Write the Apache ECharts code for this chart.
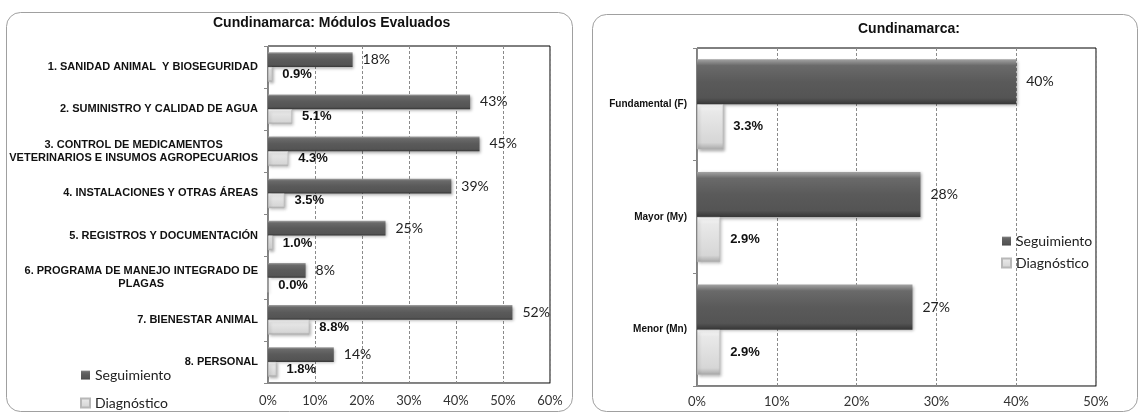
<!DOCTYPE html>
<html><head><meta charset="utf-8">
<script src="https://cdn.jsdelivr.net/npm/echarts@6/dist/echarts.min.js"></script>
<style>html,body{margin:0;padding:0;background:#fff}#c{width:1143px;height:414px}</style>
</head><body><div id="c"></div>
<script>
// ---- data ----
const modulos = [
  '1. SANIDAD ANIMAL  Y BIOSEGURIDAD',
  '2. SUMINISTRO Y CALIDAD DE AGUA',
  '3. CONTROL DE MEDICAMENTOS\nVETERINARIOS E INSUMOS AGROPECUARIOS',
  '4. INSTALACIONES Y OTRAS ÁREAS',
  '5. REGISTROS Y DOCUMENTACIÓN',
  '6. PROGRAMA DE MANEJO INTEGRADO DE\nPLAGAS',
  '7. BIENESTAR ANIMAL',
  '8. PERSONAL'
];
const modSeguimiento = [18, 43, 45, 39, 25, 8, 52, 14];
const modDiagnostico = [0.9, 5.1, 4.3, 3.5, 1.0, 0.0, 8.8, 1.8];
const niveles = ['Fundamental (F)', 'Mayor (My)', 'Menor (Mn)'];
const nivSeguimiento = [40, 28, 27];
const nivDiagnostico = [3.3, 2.9, 2.9];
const seriesNames = ['Seguimiento', 'Diagnóstico'];
const titles = ['Cundinamarca: Módulos Evaluados', 'Cundinamarca:'];
const xMaxLeft = 60, xMaxRight = 50, xStep = 10;

// ---- styles ----
const segColor = {type:'linear', x:0, y:0, x2:0, y2:1, colorStops:[
  {offset:0, color:'#a3a3a3'}, {offset:0.14, color:'#6a6a6a'}, {offset:0.5, color:'#5a5a5a'},
  {offset:0.86, color:'#545454'}, {offset:1, color:'#363636'}]};
const diaColor = {type:'linear', x:0, y:0, x2:0, y2:1, colorStops:[
  {offset:0, color:'#fbfbfb'}, {offset:0.15, color:'#e9e9e9'}, {offset:0.85, color:'#d6d6d6'},
  {offset:1, color:'#a9a9a9'}]};
const segItem = {color: segColor, shadowColor:'rgba(0,0,0,0.35)', shadowBlur:3, shadowOffsetX:1.5, shadowOffsetY:1.5};
const diaItem = {color: diaColor, borderColor:'#b8b8b8', borderWidth:0.6, shadowColor:'rgba(0,0,0,0.3)', shadowBlur:3, shadowOffsetX:1.5, shadowOffsetY:1.5};
const calibri = 'Lato';
const arial = 'Liberation Sans';

function segLabel() {
  return {show:true, position:'right', distance:10, fontFamily:calibri, fontSize:14, color:'#222',
    formatter: p => Math.round(p.value) + '%'};
}
function diaLabel() {
  return {show:true, position:'right', distance:10, fontFamily:arial, fontSize:13, fontWeight:'bold', color:'#111',
    formatter: p => p.value.toFixed(1) + '%'};
}
function xAxis(gi, max, margin) {
  return {type:'value', gridIndex:gi, min:0, max:max, interval:xStep,
    axisLabel:{formatter:'{value}%', fontFamily:calibri, fontSize:13, color:'#333', margin:margin},
    axisLine:{show:true, lineStyle:{color:'#888'}}, axisTick:{show:false},
    splitLine:{show:true, lineStyle:{color:'#8a8a8a', type:[3,2], width:1}}};
}
function yAxis(gi, data, fs, lh) {
  return {type:'category', gridIndex:gi, data:data, inverse:true,
    axisLine:{show:true, lineStyle:{color:'#888'}},
    axisTick:{show:true, length:4, lineStyle:{color:'#888'}},
    axisLabel:{margin:10, fontFamily:arial, fontWeight:'bold', fontSize:fs, color:'#111', lineHeight:lh,
      formatter: v => v.split('\n').map(s => '{c|' + s + '}').join('\n'),
      rich:{c:{align:'center', fontFamily:arial, fontWeight:'bold', fontSize:fs, color:'#111', lineHeight:lh}}},
    splitLine:{show:false}};
}

const chart = echarts.init(document.getElementById('c'), null, {renderer:'canvas'});
chart.setOption({
  animation:false,
  backgroundColor:'#fff',
  title:[
    {text:titles[0], left:213, top:16, padding:0, textStyle:{fontFamily:arial, fontSize:14, fontWeight:'bold', color:'#111'}},
    {text:titles[1], left:858, top:22, padding:0, textStyle:{fontFamily:arial, fontSize:14, fontWeight:'bold', color:'#111'}}
  ],
  graphic:[
    {type:'rect', shape:{x:6.5, y:12.5, width:566, height:399, r:14}, style:{fill:'none', stroke:'#a0a0a0', lineWidth:1}},
    {type:'rect', shape:{x:592.5, y:14.5, width:545, height:397, r:14}, style:{fill:'none', stroke:'#a0a0a0', lineWidth:1}}
  ],
  legend:[
    {data:seriesNames, orient:'vertical', left:80, top:368, itemWidth:9, itemHeight:9, itemGap:14, icon:'rect',
      selectedMode:false, padding:0, textStyle:{fontFamily:calibri, fontSize:14, color:'#222'}},
    {data:seriesNames, orient:'vertical', left:1001, top:234, itemWidth:9, itemHeight:9, itemGap:8, icon:'rect',
      selectedMode:false, padding:0, textStyle:{fontFamily:calibri, fontSize:14, color:'#222'}}
  ],
  grid:[
    {left:268, top:46, width:282, height:337, show:true, borderColor:'#000', borderWidth:1, backgroundColor:'transparent'},
    {left:697, top:48, width:399, height:338, show:true, borderColor:'#000', borderWidth:1, backgroundColor:'transparent'}
  ],
  xAxis:[xAxis(0, xMaxLeft, 11), xAxis(1, xMaxRight, 9)],
  yAxis:[yAxis(0, modulos, 11, 13), yAxis(1, niveles, 10, 12)],
  series:[
    {name:seriesNames[0], type:'bar', xAxisIndex:0, yAxisIndex:0, data:modSeguimiento, barGap:'0%', barCategoryGap:'30%',
      itemStyle:segItem, label:segLabel()},
    {name:seriesNames[1], type:'bar', xAxisIndex:0, yAxisIndex:0, data:modDiagnostico, barGap:'0%', barCategoryGap:'30%',
      itemStyle:diaItem, label:diaLabel()},
    {name:seriesNames[0], type:'bar', xAxisIndex:1, yAxisIndex:1, data:nivSeguimiento, barGap:'0%', barCategoryGap:'20%',
      itemStyle:segItem, label:segLabel()},
    {name:seriesNames[1], type:'bar', xAxisIndex:1, yAxisIndex:1, data:nivDiagnostico, barGap:'0%', barCategoryGap:'20%',
      itemStyle:diaItem, label:diaLabel()}
  ]
});
</script></body></html>
